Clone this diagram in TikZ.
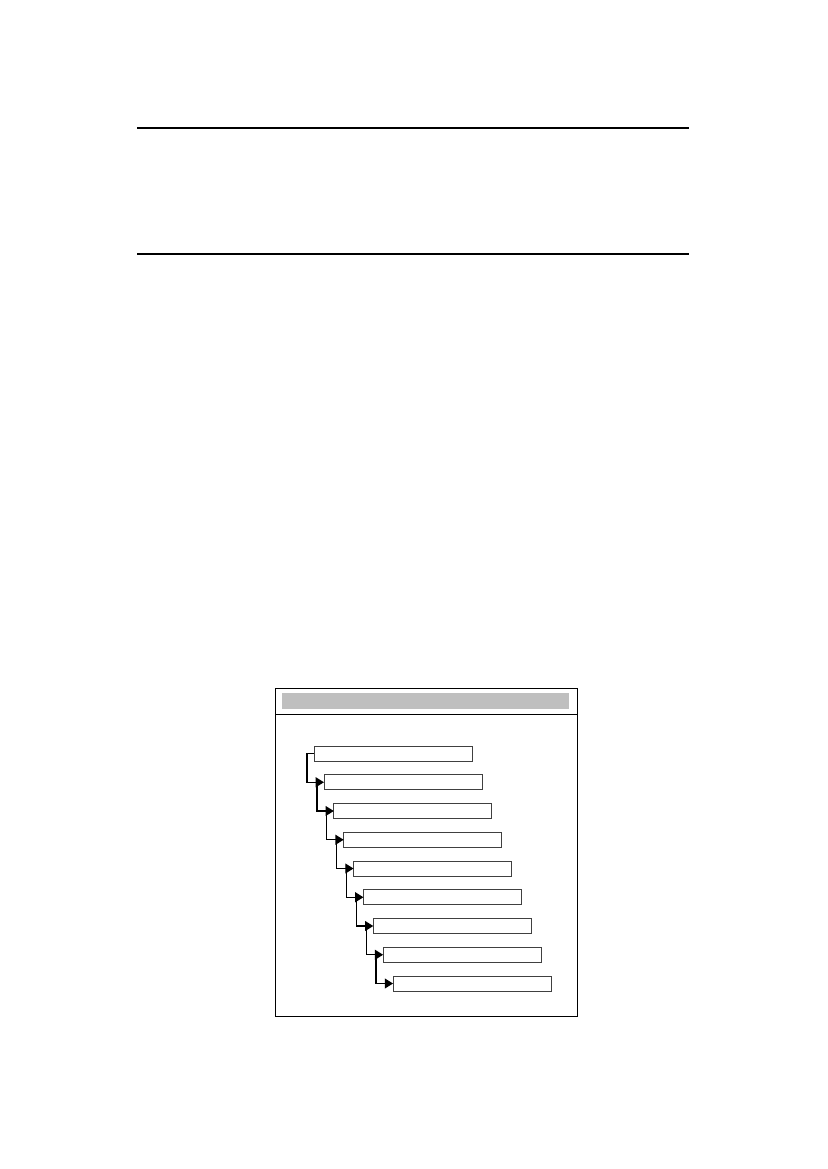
\documentclass[tikz,border=0pt]{standalone}
\usepackage{xcolor}
\usepackage{tikz}
\usetikzlibrary{
    positioning,
    arrows.meta
}
\definecolor{barGray}{RGB}{191, 191, 191}

\begin{document}
\begin{tikzpicture}[x=0.254mm, y=-0.254mm, >={Triangle[length=2.1mm, width=2.5mm]},
        stagebox/.style={draw=black!75, line width=0.5pt, minimum width=40.1mm,
            minimum height=3.8mm, inner sep=0pt, outer sep=0pt},
        link/.style={->, line width=1pt}]
        \useasboundingbox (0,0) rectangle (827,1169);
        
        % page rules
        \draw[line width=0.8pt] (137,128)--(689,128);
        \draw[line width=0.8pt] (137,254)--(689,254);
        
        % frame with header bar
        \draw[line width=0.6pt] (275,688) rectangle (577,1016);
        \draw[line width=0.6pt] (275,714)--(577,714);
        \fill[barGray] (282,693) rectangle (569,709);
        
        \node[stagebox] (s1) at (393,753.5) {};
        \node[stagebox] (s2) at (402.9,782.25) {};
        \node[stagebox] (s3) at (412.75,811) {};
        \node[stagebox] (s4) at (422.6,839.75) {};
        \node[stagebox] (s5) at (432.5,868.5) {};
        \node[stagebox] (s6) at (442.4,897.25) {};
        \node[stagebox] (s7) at (452.25,926) {};
        \node[stagebox] (s8) at (462.1,954.75) {};
        \node[stagebox] (s9) at (472,983.5) {};
        
        \draw[link] (s1.west) -- ++(-7,0) |- (s2.west);
        \draw[link] ([xshift=-1.8mm]s2.west) |- (s3.west);
        \draw[link] ([xshift=-1.8mm]s3.west) |- (s4.west);
        \draw[link] ([xshift=-1.8mm]s4.west) |- (s5.west);
        \draw[link] ([xshift=-1.8mm]s5.west) |- (s6.west);
        \draw[link] ([xshift=-1.8mm]s6.west) |- (s7.west);
        \draw[link] ([xshift=-1.8mm]s7.west) |- (s8.west);
        \draw[link] ([xshift=-1.8mm]s8.west) |- (s9.west);
    \end{tikzpicture}
\end{document}
